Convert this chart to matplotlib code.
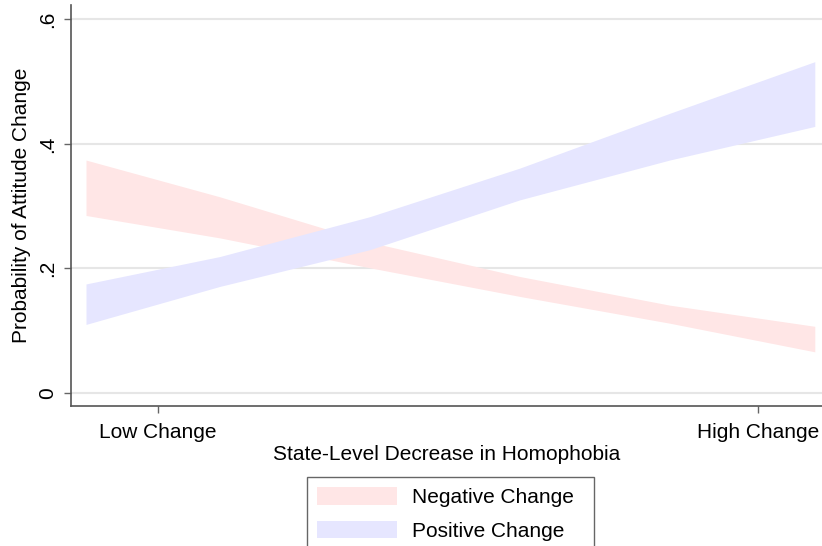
import matplotlib
matplotlib.use("Agg")
import matplotlib.pyplot as plt
from matplotlib.patches import Patch

plt.rcParams['font.family'] = ['Liberation Sans', 'DejaVu Sans']

# predicted probability bands (lower / upper CI) along the change scale
x_vals = [-0.12, 0.103, 0.353, 0.603, 0.853, 1.095]
neg_upper = [0.374, 0.315, 0.242, 0.187, 0.141, 0.107]
neg_lower = [0.285, 0.249, 0.201, 0.155, 0.112, 0.066]
pos_upper = [0.175, 0.219, 0.283, 0.361, 0.449, 0.532]
pos_lower = [0.110, 0.171, 0.230, 0.310, 0.374, 0.428]

x_ticks = [0, 1]
x_ticklabels = ["Low Change", "High Change"]
y_ticks = [0, 0.2, 0.4, 0.6]
y_ticklabels = ["0", ".2", ".4", ".6"]
series_labels = ["Negative Change", "Positive Change"]

neg_color = "#ffe6e6"
pos_color = "#e6e6ff"
fs = 15

fig = plt.figure(figsize=(8.22, 5.46), dpi=100)
ax = fig.add_axes([71 / 822, 1 - 406 / 546, 751 / 822, 401 / 546])

ax.fill_between(x_vals, neg_lower, neg_upper, color=neg_color, linewidth=0, zorder=2)
ax.fill_between(x_vals, pos_lower, pos_upper, color=pos_color, linewidth=0, zorder=3)

ax.set_xlim(-0.145, 1.107)
ax.set_ylim(-0.021, 0.623)

ax.set_yticks(y_ticks)
ax.set_yticklabels(y_ticklabels, rotation=90, va="center", fontsize=fs)
ax.set_xticks(x_ticks)
ax.set_xticklabels(x_ticklabels, fontsize=fs)
ax.tick_params(axis="both", length=5, width=1, color="#666666")
ax.tick_params(axis="x", pad=7.5)
ax.tick_params(axis="y", pad=5)

ax.grid(axis="y", color="#e6e6e6", linewidth=1.5, zorder=0)
ax.set_axisbelow(True)

for s in ["top", "right"]:
    ax.spines[s].set_visible(False)
for s in ["left", "bottom"]:
    ax.spines[s].set_color("#555555")
    ax.spines[s].set_linewidth(1.2)

ax.set_ylabel("Probability of Attitude Change", fontsize=fs, labelpad=5)
ax.set_xlabel("State-Level Decrease in Homophobia", fontsize=fs, labelpad=2)

handles = [Patch(facecolor=neg_color, edgecolor="none"),
           Patch(facecolor=pos_color, edgecolor="none")]
leg = fig.legend(handles, series_labels, loc="upper left", mode="expand",
                 bbox_to_anchor=(307 / 822, 1 - 477 / 546, 287 / 822, 0), fontsize=fs,
                 frameon=True, fancybox=False, handlelength=3.8, handleheight=0.9,
                 handletextpad=0.75, labelspacing=0.65, borderpad=0.5,
                 borderaxespad=0)
leg.get_frame().set_edgecolor("#404040")
leg.get_frame().set_linewidth(1.0)

fig.savefig("out.png", dpi=100)
